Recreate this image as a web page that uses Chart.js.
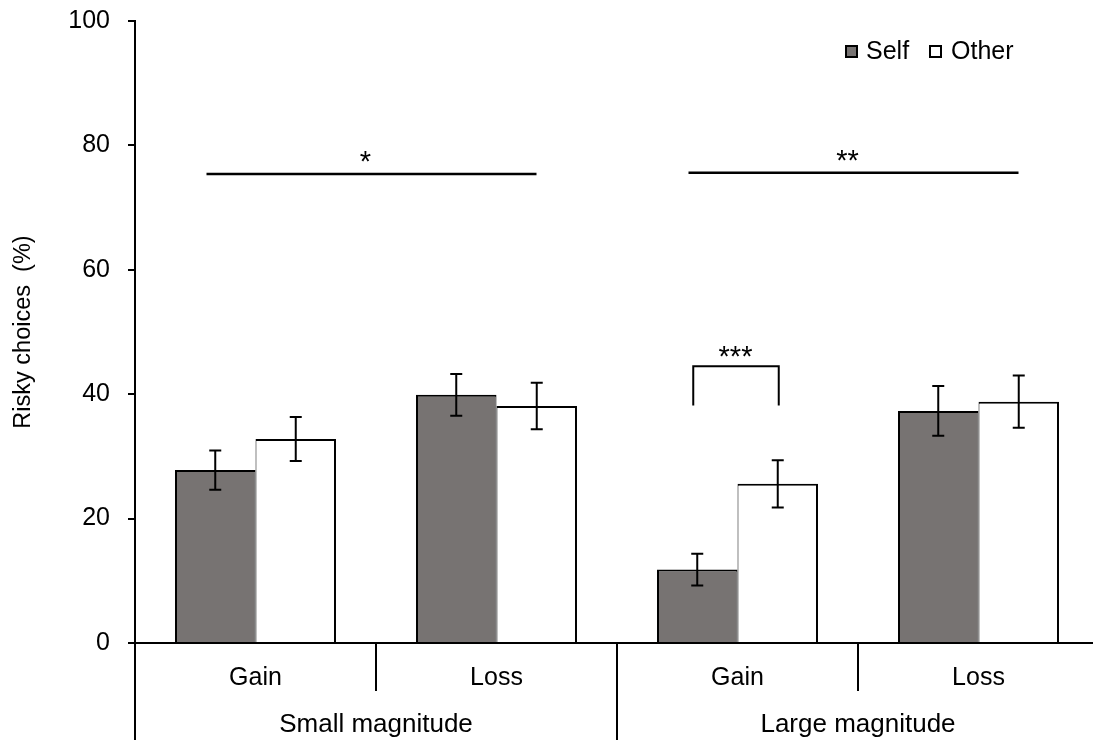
<!DOCTYPE html>
<html>
<head>
<meta charset="utf-8">
<script src="https://cdn.jsdelivr.net/npm/chart.js@4.4.1/dist/chart.umd.min.js"></script>
<style>
  html, body { margin: 0; padding: 0; background: #fff; overflow: hidden; }
  #wrap { width: 1110px; height: 740px; }
</style>
</head>
<body>
<div id="wrap"><canvas id="chart" width="1110" height="740"></canvas></div>
<script>
// conditions (inner level) and magnitude groups (outer level)
const conditions = ["Gain", "Loss", "Gain", "Loss"];
const magnitudes = ["Small magnitude", "Large magnitude"];

// risky choices (%) and error bars
const selfValues = [27.8, 39.9, 11.8, 37.3];
const otherValues = [32.8, 38.1, 25.6, 38.8];
const selfErr = [3.15, 3.35, 2.55, 4.0];
const otherErr = [3.55, 3.75, 3.8, 4.2];

// significance marks
const groupSigLevel = [75.4, 75.6];
const groupSigText = ["*", "**"];
const pairSigTop = 44.5;
const pairSigLeg = 38.2;
const pairSigText = "***";

const yTicks = [0, 20, 40, 60, 80, 100];

const FONT = '"Liberation Sans", Arial, sans-serif';
const SELF_COLOR = "#777372";

const overlay = {
  id: "overlay",
  afterDatasetsDraw(chart) {
    const { ctx, scales: { x, y } } = chart;
    ctx.save();
    ctx.strokeStyle = "#000";
    ctx.lineWidth = 2;

    // error bars
    [[selfValues, selfErr], [otherValues, otherErr]].forEach(([vals, errs], d) => {
      chart.getDatasetMeta(d).data.forEach((bar, i) => {
        const top = y.getPixelForValue(vals[i] + errs[i]);
        const bot = y.getPixelForValue(vals[i] - errs[i]);
        ctx.beginPath();
        ctx.moveTo(bar.x, top); ctx.lineTo(bar.x, bot);
        ctx.moveTo(bar.x - 6, top); ctx.lineTo(bar.x + 6, top);
        ctx.moveTo(bar.x - 6, bot); ctx.lineTo(bar.x + 6, bot);
        ctx.stroke();
      });
    });

    // main effect lines over each magnitude
    ctx.fillStyle = "#000";
    ctx.font = "29px " + FONT;
    ctx.textAlign = "center";
    ctx.textBaseline = "alphabetic";
    [[0, 1], [2, 3]].forEach(([a, b], k) => {
      const x0 = x.getPixelForValue(a) - 49;
      const x1 = x.getPixelForValue(b) + 40;
      const yy = y.getPixelForValue(groupSigLevel[k]);
      ctx.beginPath();
      ctx.lineWidth = 2.5;
      ctx.moveTo(x0, yy); ctx.lineTo(x1, yy);
      ctx.stroke();
      ctx.fillText(groupSigText[k], (x0 + x1) / 2 - 6, yy - 3);
    });

    // bracket for large gain self vs other
    const s = chart.getDatasetMeta(0).data[2];
    const o = chart.getDatasetMeta(1).data[2];
    const bt = y.getPixelForValue(pairSigTop);
    const bl = y.getPixelForValue(pairSigLeg);
    ctx.lineWidth = 2;
    ctx.beginPath();
    ctx.moveTo(s.x - 4, bl); ctx.lineTo(s.x - 4, bt);
    ctx.lineTo(o.x + 1, bt); ctx.lineTo(o.x + 1, bl);
    ctx.stroke();
    ctx.fillText(pairSigText, (s.x + o.x) / 2 - 2, bt);
    ctx.restore();
  },
  afterDraw(chart) {
    const { ctx, scales: { x }, chartArea } = chart;
    const base = chartArea.bottom;
    ctx.save();
    ctx.strokeStyle = "#000";
    ctx.lineWidth = 2;

    // y axis continues through the label rows
    ctx.beginPath();
    ctx.moveTo(chartArea.left, base); ctx.lineTo(chartArea.left, 740);
    ctx.stroke();

    // dividers between categories
    for (let i = 0; i < conditions.length - 1; i++) {
      const xb = (x.getPixelForValue(i) + x.getPixelForValue(i + 1)) / 2;
      const long = i === 1;
      ctx.beginPath();
      ctx.moveTo(xb, base); ctx.lineTo(xb, long ? 740 : base + 48);
      ctx.stroke();
    }

    ctx.fillStyle = "#000";
    ctx.textAlign = "center";
    ctx.textBaseline = "alphabetic";
    ctx.font = "25px " + FONT;
    conditions.forEach((c, i) => ctx.fillText(c, x.getPixelForValue(i), base + 42));
    ctx.font = "26px " + FONT;
    magnitudes.forEach((m, k) => {
      const xc = (x.getPixelForValue(2 * k) + x.getPixelForValue(2 * k + 1)) / 2;
      ctx.fillText(m, xc, base + 89);
    });

    // legend
    ctx.font = "25px " + FONT;
    ctx.textAlign = "left";
    const lb = 59;
    ctx.fillStyle = SELF_COLOR;
    ctx.fillRect(846, 46, 11, 11);
    ctx.strokeRect(846, 46, 11, 11);
    ctx.fillStyle = "#000";
    ctx.fillText("Self", 866, lb);
    ctx.fillStyle = "#fff";
    ctx.fillRect(930, 46, 11, 11);
    ctx.strokeRect(930, 46, 11, 11);
    ctx.fillStyle = "#000";
    ctx.fillText("Other", 951, lb);
    ctx.restore();
  }
};

new Chart(document.getElementById("chart"), {
  type: "bar",
  data: {
    labels: conditions,
    datasets: [
      {
        label: "Self",
        data: selfValues,
        backgroundColor: SELF_COLOR,
        borderColor: "#000",
        borderWidth: { top: 2, left: 2, right: 1, bottom: 0 },
        borderSkipped: false
      },
      {
        label: "Other",
        data: otherValues,
        backgroundColor: "#fff",
        borderColor: "#000",
        borderWidth: { top: 2, left: 1, right: 2, bottom: 0 },
        borderSkipped: false
      }
    ]
  },
  options: {
    responsive: false,
    animation: false,
    devicePixelRatio: 1,
    layout: { padding: { top: 21, right: 11, left: 0, bottom: 0 } },
    datasets: { bar: { categoryPercentage: 0.668, barPercentage: 1 } },
    plugins: { legend: { display: false }, tooltip: { enabled: false } },
    scales: {
      x: {
        offset: true,
        grid: { display: false },
        border: { display: true, color: "#000", width: 2 },
        ticks: { display: false },
        afterFit: (s) => { s.height = 97; s.paddingLeft = 0; s.paddingRight = 0; }
      },
      y: {
        min: 0,
        max: 100,
        afterBuildTicks: (s) => { s.ticks = yTicks.map((v) => ({ value: v })); },
        grid: { drawOnChartArea: false, drawTicks: true, tickLength: 7, color: "#000", lineWidth: 2 },
        border: { display: true, color: "#000", width: 2 },
        ticks: { color: "#000", padding: 18, font: { family: FONT, size: 25 } },
        title: { display: true, text: "Risky choices  (%)", color: "#000", padding: { top: 9 }, font: { family: FONT, size: 23.5 } },
        afterFit: (s) => { s.width = 135; s.paddingTop = 0; s.paddingBottom = 0; }
      }
    }
  },
  plugins: [overlay]
});
</script>
</body>
</html>
